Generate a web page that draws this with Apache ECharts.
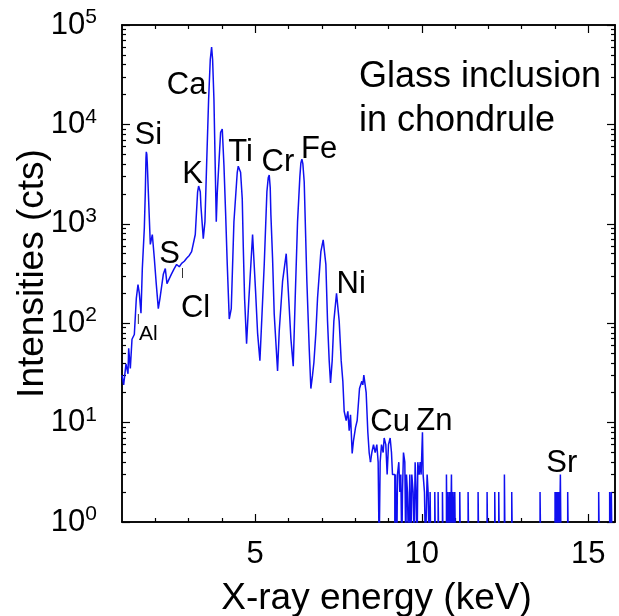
<!DOCTYPE html>
<html>
<head>
<meta charset="utf-8">
<script src="https://cdn.jsdelivr.net/npm/echarts@6/dist/echarts.min.js"></script>
<style>
  html, body { margin: 0; padding: 0; background: #fff; }
  #spectrum { width: 619px; height: 616px; }
</style>
</head>
<body>
<div id="spectrum"></div>
<script>
// main spectrum, 1 - 8.46 keV
var mainEnergy = [1.00,1.05,1.12,1.18,1.20,1.25,1.30,1.37,1.43,1.48,1.52,1.57,1.61,1.67,1.70,1.72,1.73,1.745,1.76,1.79,1.85,1.91,1.97,2.03,2.09,2.14,2.24,2.30,2.35,2.39,2.48,2.56,2.64,2.72,2.79,2.87,2.94,3.02,3.09,3.20,3.27,3.30,3.32,3.35,3.37,3.44,3.49,3.54,3.60,3.65,3.69,3.72,3.76,3.83,3.86,3.96,4.01,4.06,4.11,4.16,4.22,4.28,4.36,4.46,4.49,4.52,4.56,4.61,4.64,4.68,4.74,4.81,4.92,5.01,5.07,5.14,5.18,5.27,5.35,5.39,5.42,5.45,5.47,5.52,5.57,5.67,5.72,5.82,5.93,6.01,6.07,6.14,6.20,6.27,6.34,6.37,6.40,6.43,6.47,6.55,6.62,6.67,6.72,6.76,6.82,6.87,6.97,7.04,7.12,7.17,7.22,7.26,7.31,7.36,7.44,7.52,7.58,7.63,7.67,7.73,7.78,7.82,7.86,7.91,7.95,8.01,8.06,8.13,8.20,8.23,8.26,8.33,8.38,8.42,8.46];
var mainCounts = [30,24,39,31,56,35,69,77,178,245,200,126,355,900,2100,4600,5300,5000,4000,2100,620,780,450,245,140,178,310,355,250,245,310,350,390,370,400,420,450,480,525,780,2100,2400,2450,2100,1500,710,1050,3900,17800,45000,60000,45000,17800,1050,2050,8300,9000,3900,1300,390,110,140,1050,3300,3800,3900,3300,1780,600,178,62,178,780,210,80,42,83,390,2100,2900,3100,2300,1230,450,123,33,83,263,500,165,70,37,180,1050,3000,4100,4470,4000,2630,263,56,22,30,40,80,178,525,690,390,105,42,25,42,105,200,105,42,26,13,10.5,13,8.3,12,4.9,6.6,8.9,10.5,22,26,24,30,20,8,5,4];

// noisy part 8.46 - 10.3 keV, each count holds until the next energy
var tailEnergy = [8.46,8.50,8.55,8.60,8.65,8.69,8.72,8.75,8.79,8.84,8.87,8.92,8.96,9.00,9.05,9.09,9.12,9.16,9.19,9.21,9.25,9.27,9.31,9.34,9.37,9.40,9.42,9.45,9.49,9.52,9.54,9.57,9.60,9.64,9.67,9.70,9.74,9.77,9.80,9.83,9.86,9.88,9.92,9.95,9.98,10.02,10.04,10.08,10.11,10.16,10.19,10.22,10.25,10.27];
var tailCounts = [4,5,6,5,6,4,0.5,4,6,5,7,6,3,6,7,5,3,3,0.5,3,0.5,3,4,2,3,0.5,2,5,4,0.5,3,2,0.5,3,0.5,3,2,0.5,4,2,0.5,4,3,4,3,8,3,2,0.5,3,2,0.5,2,0.5];

// isolated single-channel counts above 10.3 keV
var spikeEnergy = [10.39,10.49,10.62,10.74,10.79,10.84,10.89,10.94,10.99,11.14,11.39,11.69,11.96,12.19,12.31,12.48,12.70,13.55,14.00,14.04,14.08,14.11,14.16,14.38,15.31,15.64,15.69];
var spikeCounts = [2,2,2,3,2,2,3,2,2,2,2,2,2,2,2,3,2,2,2,2,2,2,3,2,2,2,2];

var emptyCount = 0.5;     // zero-count channels, below the axis
var channelWidth = 0.02;

var peakNames = ['Ca','Si','K','Ti','Cr','Fe','S','Cl','Al','Ni','Cu','Zn','Sr'];
var peakLabelE = [2.94,1.79,3.12,4.56,5.68,6.92,2.43,3.21,1.79,7.88,9.05,10.38,14.2];
var peakLabelC = [24500,7760,3160,5250,4170,5620,490,141,78,245,10,10.2,3.9];

var xMajor = [5,10,15];
var xMinor = [2,3,4,6,7,8,9,11,12,13,14];
var yMajor = [1,10,100,1000,10000,100000];
var yMinor = [];
for (var d = 1; d < 100000; d *= 10) {
    for (var k = 2; k <= 9; k++) yMinor.push(d * k);
}

var mainData = mainEnergy.map(function (e, i) { return [e, mainCounts[i]]; });
var tailData = tailEnergy.map(function (e, i) { return [e, tailCounts[i]]; });
spikeEnergy.forEach(function (e, i) {
    tailData.push([e, spikeCounts[i]]);
    tailData.push([+(e + channelWidth).toFixed(3), emptyCount]);
});
tailData.push([15.8, emptyCount]);

var labelData = peakNames.map(function (n, i) {
    var item = { name: n, coord: [peakLabelE[i], peakLabelC[i]] };
    if (n === 'Al') item.label = { fontSize: 21 };
    return item;
});
// small element position markers
labelData.push({ name: '|', coord: [1.49, 110], label: { fontSize: 10 } });
labelData.push({ name: '|', coord: [2.82, 316], label: { fontSize: 10 } });

var font = 'Liberation Sans';
var black = '#000';
var blue = '#1010f0';

function xAx(pos, ticks, len, labels) {
    return {
        type: 'value', min: 1, max: 15.8, position: pos,
        axisLine: { show: true, onZero: false, lineStyle: { color: black, width: 1.5 } },
        axisTick: { show: true, inside: true, length: len, customValues: ticks, lineStyle: { color: black, width: 1.2 } },
        axisLabel: labels ? { show: true, customValues: ticks, color: black, fontSize: 31, fontFamily: font, margin: 17 } : { show: false },
        splitLine: { show: false }
    };
}
function yAx(pos, ticks, len, labels) {
    return {
        type: 'log', logBase: 10, min: 1, max: 100000, position: pos,
        axisLine: { show: true, onZero: false, lineStyle: { color: black, width: 1.5 } },
        axisTick: { show: true, inside: true, length: len, customValues: ticks, lineStyle: { color: black, width: 1.2 } },
        axisLabel: labels ? {
            show: true, customValues: ticks, margin: 25,
            formatter: function (v) { return '{b|10}{s|' + Math.round(Math.log10(v)) + '}'; },
            rich: {
                b: { fontSize: 31, fontFamily: font, color: black },
                s: { fontSize: 21, fontFamily: font, color: black, verticalAlign: 'top', padding: [0, 0, 15, 0] }
            }
        } : { show: false },
        splitLine: { show: false }
    };
}

var xMain = xAx('bottom', xMajor, 8, true);
xMain.name = 'X-ray energy (keV)';
xMain.nameLocation = 'middle';
xMain.nameGap = 58;
xMain.nameMoveOverlap = false;
xMain.nameTextStyle = { fontSize: 37, fontFamily: font, color: black, padding: [0, 0, 0, 16] };

var yMain = yAx('left', yMajor, 8, true);
yMain.name = 'Intensities (cts)';
yMain.nameLocation = 'middle';
yMain.nameGap = 71;
yMain.nameMoveOverlap = false;
yMain.nameTextStyle = { fontSize: 37, fontFamily: font, color: black };

var chart = echarts.init(document.getElementById('spectrum'));
var option = {
    animation: false,
    backgroundColor: '#fff',
    title: {
        text: 'Glass inclusion\nin chondrule',
        left: 354, top: 50,
        textStyle: { fontSize: 36, fontWeight: 'normal', fontFamily: font, color: black, lineHeight: 44 }
    },
    grid: { left: 122, right: 4, top: 25, bottom: 94, outerBoundsMode: 'none', containLabel: false },
    xAxis: [
        xMain,
        xAx('bottom', xMinor, 4, false),
        xAx('top', xMajor, 8, false),
        xAx('top', xMinor, 4, false)
    ],
    yAxis: [
        yMain,
        yAx('left', yMinor, 4, false),
        yAx('right', yMajor, 8, false),
        yAx('right', yMinor, 4, false)
    ],
    series: [
        {
            name: 'spectrum', type: 'line', data: mainData,
            showSymbol: false, lineStyle: { color: blue, width: 1.5 },
            markPoint: {
                symbol: 'circle', symbolSize: 0,
                label: { show: true, formatter: '{b}', fontSize: 31, fontFamily: font, color: black },
                data: labelData
            }
        },
        {
            name: 'tail', type: 'line', data: tailData, step: 'end',
            showSymbol: false, lineStyle: { color: blue, width: 1.5 }, clip: true
        }
    ]
};
chart.setOption(option);
</script>
</body>
</html>
